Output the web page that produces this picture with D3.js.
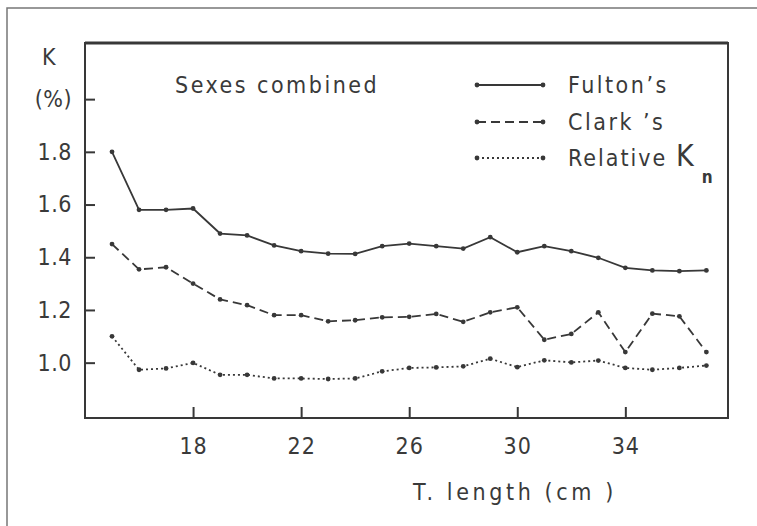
<!DOCTYPE html>
<html>
<head>
<meta charset="utf-8">
<script src="https://cdn.jsdelivr.net/npm/d3@7"></script>
<style>
  body { margin: 0; background: white; }
  text { font-family: "DejaVu Sans Condensed", "DejaVu Sans", sans-serif; fill: #3a3a3a; }
</style>
</head>
<body>
<svg id="vis"></svg>
<script>
const width = 757;
const height = 526;

// data
const lengths = [15, 16, 17, 18, 19, 20, 21, 22, 23, 24, 25, 26, 27, 28, 29, 30, 31, 32, 33, 34, 35, 36, 37];
const fulton = [1.80, 1.58, 1.58, 1.585, 1.49, 1.483, 1.445, 1.423, 1.414, 1.413, 1.442, 1.452, 1.442, 1.433, 1.476, 1.419, 1.442, 1.423, 1.398, 1.36, 1.35, 1.347, 1.35];
const clark = [1.45, 1.354, 1.362, 1.30, 1.24, 1.218, 1.18, 1.18, 1.157, 1.161, 1.172, 1.174, 1.185, 1.155, 1.191, 1.21, 1.087, 1.109, 1.191, 1.04, 1.186, 1.176, 1.04];
const relative = [1.10, 0.973, 0.978, 0.999, 0.954, 0.954, 0.94, 0.94, 0.938, 0.94, 0.967, 0.98, 0.982, 0.986, 1.015, 0.983, 1.009, 1.001, 1.008, 0.98, 0.973, 0.98, 0.989];
const xTicks = [18, 22, 26, 30, 34];
const yTicks = [1.0, 1.2, 1.4, 1.6, 1.8];
const seriesNames = ["Fulton\u2019s", "Clark \u2019s", "Relative"];

const plotLeft = 85, plotRight = 728, plotTop = 43, plotBottom = 418;
const ink = "#383838";

const svg = d3.select("#vis")
  .attr("width", width)
  .attr("height", height);

// outer frame (top and left only visible)
svg.append("path")
  .attr("d", `M7,${height} L7,8 L${width},8`)
  .attr("fill", "none")
  .attr("stroke", "#777")
  .attr("stroke-width", 1.5);

const x = d3.scaleLinear().domain([14, 37.8]).range([plotLeft, plotRight]);
const y = d3.scaleLinear().domain([0.79, 2.213]).range([plotBottom, plotTop]);

// plot box
svg.append("rect")
  .attr("x", plotLeft)
  .attr("y", plotTop)
  .attr("width", plotRight - plotLeft)
  .attr("height", plotBottom - plotTop)
  .attr("fill", "none")
  .attr("stroke", ink)
  .attr("stroke-width", 2);

svg.append("line")
  .attr("x1", plotLeft).attr("x2", plotRight)
  .attr("y1", plotTop).attr("y2", plotTop)
  .attr("stroke", ink)
  .attr("stroke-width", 3);

// axes, ticks point inward
const xAxis = d3.axisBottom(x)
  .tickValues(xTicks)
  .tickSize(-11)
  .tickPadding(20)
  .tickFormat(d3.format("d"));

svg.append("g")
  .attr("transform", `translate(0,${plotBottom})`)
  .call(xAxis)
  .call(g => g.select(".domain").remove())
  .call(g => g.selectAll("line").attr("stroke", ink).attr("stroke-width", 2))
  .call(g => g.selectAll("text")
    .attr("font-size", 23)
    .attr("letter-spacing", 1)
    .attr("fill", "#3a3a3a")
    .style("font-family", "'DejaVu Sans Condensed', sans-serif"));

const yAxis = d3.axisLeft(y)
  .tickValues(yTicks.concat([2.0]))
  .tickSize(-10)
  .tickPadding(13)
  .tickFormat(d => d === 2.0 ? "(%)" : d3.format(".1f")(d));

svg.append("g")
  .attr("transform", `translate(${plotLeft},0)`)
  .call(yAxis)
  .call(g => g.select(".domain").remove())
  .call(g => g.selectAll("line").attr("stroke", ink).attr("stroke-width", 2))
  .call(g => g.selectAll("text")
    .attr("font-size", 23)
    .attr("letter-spacing", 0.5)
    .attr("fill", "#3a3a3a")
    .style("font-family", "'DejaVu Sans Condensed', sans-serif"));

svg.append("text")
  .attr("x", 42)
  .attr("y", 65)
  .attr("font-size", 23)
  .text("K");

svg.append("text")
  .attr("x", 413)
  .attr("y", 500)
  .attr("font-size", 23)
  .attr("letter-spacing", 3.6)
  .text("T. length (cm )");

svg.append("text")
  .attr("x", 175)
  .attr("y", 93)
  .attr("font-size", 23)
  .attr("letter-spacing", 2.5)
  .text("Sexes combined");

// series
const styles = [
  { values: fulton, dash: null },
  { values: clark, dash: "9,5" },
  { values: relative, dash: "2,3" },
];

const drawLine = d3.line()
  .x(d => x(d.len))
  .y(d => y(d.v));

styles.forEach(s => {
  const pts = lengths.map((len, i) => ({ len: len, v: s.values[i] }));
  svg.append("path")
    .attr("d", drawLine(pts))
    .attr("fill", "none")
    .attr("stroke", ink)
    .attr("stroke-width", 1.8)
    .attr("stroke-dasharray", s.dash);
  svg.selectAll(null)
    .data(pts)
    .join("circle")
    .attr("cx", d => x(d.len))
    .attr("cy", d => y(d.v))
    .attr("r", 2.4)
    .attr("fill", ink);
});

// legend
const legendY = [85, 122, 158];
const legend = svg.append("g");
styles.forEach((s, i) => {
  const g = legend.append("g").attr("transform", `translate(0,${legendY[i]})`);
  g.append("line")
    .attr("x1", 477).attr("x2", 543)
    .attr("stroke", ink)
    .attr("stroke-width", 1.8)
    .attr("stroke-dasharray", s.dash);
  g.selectAll("circle")
    .data([477, 543])
    .join("circle")
    .attr("cx", d => d)
    .attr("r", 2.4)
    .attr("fill", ink);
  const t = g.append("text")
    .attr("x", 568)
    .attr("y", 8)
    .attr("font-size", 23)
    .attr("letter-spacing", i === 2 ? 2 : 2.5)
    .text(seriesNames[i]);
  if (i === 2) {
    t.append("tspan").attr("x", 676).attr("font-size", 30).attr("letter-spacing", 0).text("K");
    t.append("tspan").attr("font-size", 17).attr("font-weight", "bold").attr("dx", 8).attr("dy", 17).text("n");
  }
});
</script>
</body>
</html>
